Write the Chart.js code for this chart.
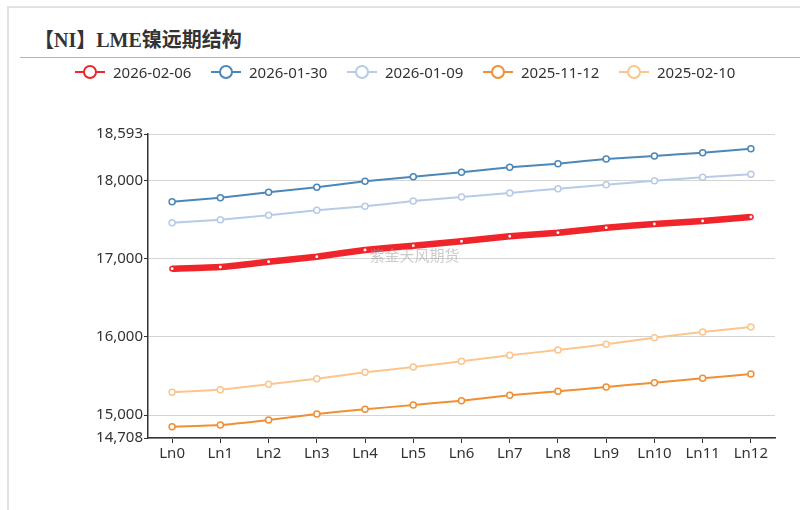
<!DOCTYPE html>
<html>
<head>
<meta charset="utf-8">
<script src="https://cdn.jsdelivr.net/npm/chart.js@4/dist/chart.umd.min.js"></script>
<style>
  html, body { margin: 0; padding: 0; background: #fff; }
  body { width: 800px; height: 510px; position: relative; overflow: hidden; font-family: "Noto Sans", "Noto Sans CJK SC", sans-serif; }
  .card { position: absolute; left: 7px; top: 6px; width: 820px; height: 520px; border: 2px solid #e2e2e2; box-sizing: border-box; }
  .title { position: absolute; left: 34px; top: 24px; font-family: "Liberation Serif", "Noto Sans CJK SC", serif; font-weight: bold; font-size: 20px; color: #333; }
  .rule { position: absolute; left: 20px; top: 57px; width: 790px; height: 0; border-top: 1px solid #b5b5b5; }
  #legend { position: absolute; left: 75px; top: 61px; display: flex; z-index: 2; }
  .item { width: 136px; display: flex; align-items: center; height: 22px; font-size: 15px; color: #333; }
  .item canvas { margin-right: 8px; }
  #wrap { position: absolute; left: 0; top: 0; width: 800px; height: 510px; }
</style>
</head>
<body>
<div class="card"></div>
<div class="title">【NI】LME镍远期结构</div>
<div class="rule"></div>
<div id="legend"></div>
<div id="wrap"><canvas id="grafico"></canvas></div>
<script>
  const categorias = ['Ln0', 'Ln1', 'Ln2', 'Ln3', 'Ln4', 'Ln5', 'Ln6', 'Ln7', 'Ln8', 'Ln9', 'Ln10', 'Ln11', 'Ln12'];
  const serie20260206 = [16872, 16893, 16961, 17025, 17111, 17166, 17222, 17286, 17332, 17396, 17443, 17481, 17532];
  const serie20260130 = [17728, 17779, 17848, 17912, 17988, 18047, 18103, 18167, 18214, 18274, 18312, 18354, 18405];
  const serie20260109 = [17460, 17498, 17554, 17618, 17669, 17737, 17788, 17839, 17894, 17945, 17996, 18040, 18078];
  const serie20251112 = [14852, 14874, 14938, 15015, 15075, 15130, 15185, 15254, 15305, 15360, 15415, 15471, 15526];
  const serie20250210 = [15292, 15326, 15394, 15466, 15547, 15615, 15688, 15765, 15833, 15905, 15990, 16062, 16127];
  const ticksY = [14708, 15000, 16000, 17000, 18000, 18593];

  const series = [
    { label: '2026-02-06', data: serie20260206, color: '#f0252b', width: 6.5, radius: 2.2 },
    { label: '2026-01-30', data: serie20260130, color: '#4b87b8', width: 2, radius: 3 },
    { label: '2026-01-09', data: serie20260109, color: '#b7cbe6', width: 2, radius: 3 },
    { label: '2025-11-12', data: serie20251112, color: '#f08f33', width: 2, radius: 3 },
    { label: '2025-02-10', data: serie20250210, color: '#fcc58d', width: 2, radius: 3 }
  ];

  // legenda em HTML
  const legend = document.getElementById('legend');
  series.forEach(s => {
    const item = document.createElement('div');
    item.className = 'item';
    const c = document.createElement('canvas');
    c.width = 30; c.height = 20;
    const g = c.getContext('2d');
    g.strokeStyle = s.color; g.lineWidth = 2;
    g.beginPath(); g.moveTo(0, 10); g.lineTo(30, 10); g.stroke();
    g.fillStyle = '#fff';
    g.beginPath(); g.arc(15, 10, 6, 0, Math.PI * 2); g.fill(); g.stroke();
    item.appendChild(c);
    const t = document.createElement('span');
    t.textContent = s.label;
    item.appendChild(t);
    legend.appendChild(item);
  });

  const marcaDagua = {
    id: 'marcaDagua',
    afterDatasetsDraw(chart) {
      const { ctx, chartArea } = chart;
      ctx.save();
      ctx.font = '15px "Noto Sans CJK SC"';
      ctx.fillStyle = 'rgba(160,160,160,0.55)';
      ctx.textAlign = 'center';
      ctx.textBaseline = 'middle';
      ctx.fillText('紫金天风期货', chartArea.left + chartArea.width * 0.425, chartArea.top + chartArea.height * 0.4);
      ctx.restore();
    }
  };

  const ctx = document.getElementById('grafico').getContext('2d');

  const grafico = new Chart(ctx, {
    type: 'line',
    data: {
      labels: categorias,
      datasets: series.map(s => ({
        label: s.label,
        data: s.data,
        fill: false,
        borderColor: s.color,
        borderWidth: s.width,
        backgroundColor: '#fff',
        pointBackgroundColor: '#fff',
        pointBorderColor: s.color,
        pointBorderWidth: 1.5,
        pointRadius: s.radius,
        tension: 0.1
      }))
    },
    options: {
      responsive: true,
      maintainAspectRatio: false,
      animation: false,
      layout: { padding: { left: 78, top: 134, right: 25, bottom: 40 } },
      plugins: {
        legend: { display: false },
        tooltip: { enabled: false }
      },
      scales: {
        x: {
          offset: true,
          border: { color: '#333', width: 1.5 },
          grid: { offset: false, drawOnChartArea: false, drawTicks: true, tickLength: 5, tickColor: '#333' },
          ticks: { color: '#333', font: { size: 15, family: 'Noto Sans' }, padding: 2, maxRotation: 0, autoSkip: false },
          afterFit(scale) { scale.height = 32; }
        },
        y: {
          min: ticksY[0],
          max: ticksY[ticksY.length - 1],
          afterBuildTicks(scale) { scale.ticks = ticksY.map(v => ({ value: v })); },
          border: { color: '#333', width: 1.5 },
          grid: { color: '#d4d4d4', lineWidth: 1, tickLength: 4, tickColor: '#333' },
          ticks: {
            color: '#333',
            font: { size: 15, family: 'Noto Sans' },
            padding: 1,
            callback: v => v.toLocaleString('en-US')
          },
          afterFit(scale) { scale.width = 70; }
        }
      }
    },
    plugins: [marcaDagua]
  });
</script>
</body>
</html>
